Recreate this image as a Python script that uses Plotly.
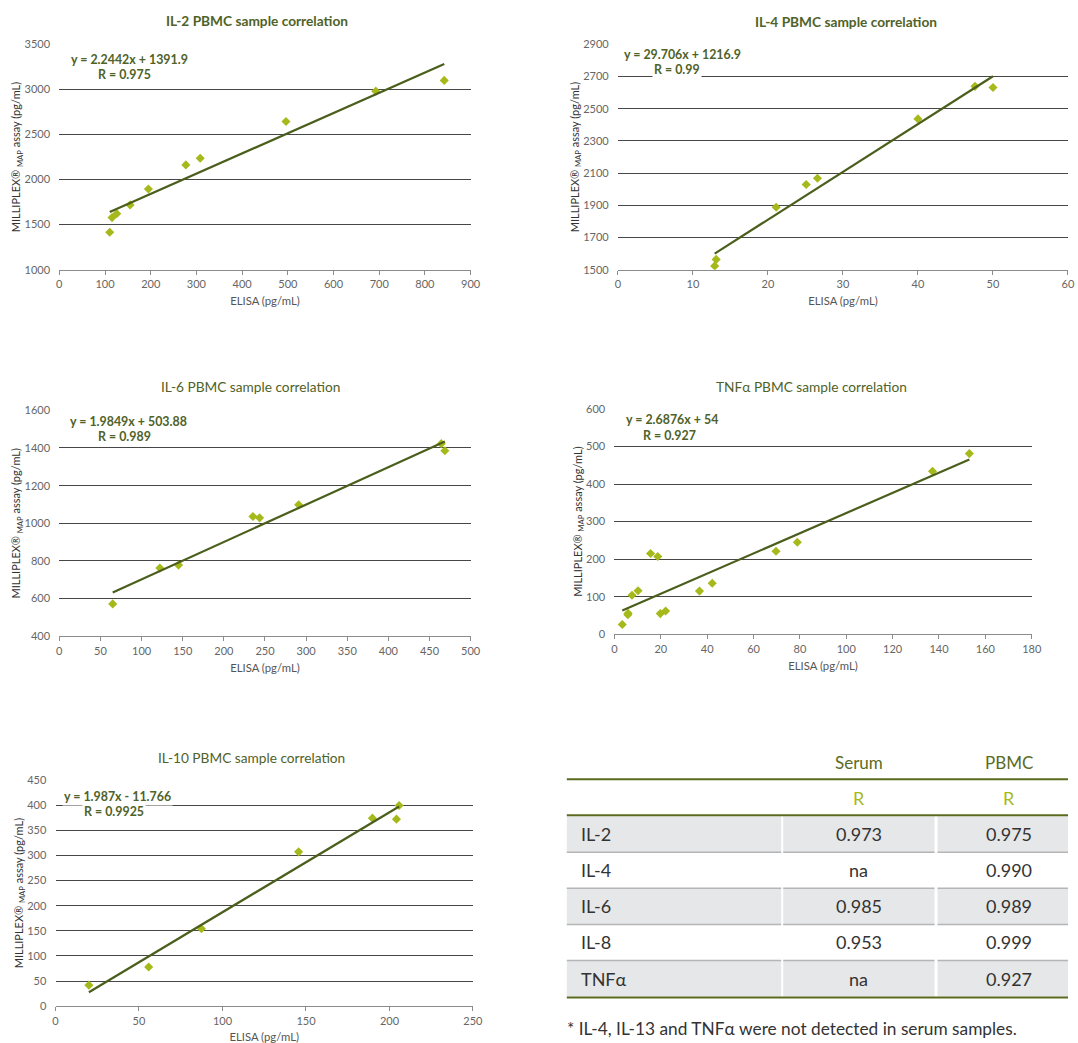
import plotly.graph_objects as go

# ---------------- data ----------------
il2_elisa = [110.3, 115.4, 125.6, 154.9, 195.0, 276.9, 308.3, 496.0, 692.5, 842.3]
il2_milliplex = [1415, 1578, 1622, 1719, 1896, 2163, 2237, 2644, 2981, 3100]
il2_slope, il2_intercept, il2_r = 2.2442, 1391.9, "0.975"

il4_elisa = [12.9, 13.1, 21.1, 25.1, 26.6, 40.0, 47.6, 50.0]
il4_milliplex = [1523, 1564, 1888, 2029, 2068, 2437, 2639, 2632]
il4_slope, il4_intercept, il4_r = 29.706, 1216.9, "0.99"

il6_elisa = [64.9, 122.2, 144.9, 235.4, 243.5, 291.0, 464.3, 468.7]
il6_milliplex = [572, 762, 778, 1036, 1029, 1098, 1423, 1385]
il6_slope, il6_intercept, il6_r = 1.9849, 503.88, "0.989"

tnf_elisa = [3.4, 5.8, 5.9, 7.6, 10.2, 15.6, 18.7, 19.8, 22.1, 36.7, 42.2, 69.7, 78.9, 137.2, 153.1]
tnf_milliplex = [26, 52, 56, 104, 116, 215, 207, 55, 62, 115, 136, 221, 245, 434, 481]
tnf_slope, tnf_intercept, tnf_r = 2.6876, 54, "0.927"

il10_elisa = [20.0, 55.8, 87.4, 145.6, 189.8, 204.2, 205.8]
il10_milliplex = [42, 78, 154, 307, 374, 372, 399]
il10_slope, il10_intercept, il10_r = 1.987, -11.766, "0.9925"

chart_titles = ["IL-2 PBMC sample correlation", "IL-4 PBMC sample correlation",
                "IL-6 PBMC sample correlation", "TNFα PBMC sample correlation",
                "IL-10 PBMC sample correlation"]
equation_texts = ["y = 2.2442x + 1391.9", "y = 29.706x + 1216.9", "y = 1.9849x + 503.88",
                  "y = 2.6876x + 54", "y = 1.987x - 11.766"]

table_header = ["Serum", "PBMC"]
table_rows = ["IL-2", "IL-4", "IL-6", "IL-8", "TNFα"]
serum_r = ["0.973", "na", "0.985", "0.953", "na"]
pbmc_r = ["0.975", "0.990", "0.989", "0.999", "0.927"]
footnote = "* IL-4, IL-13 and TNFα were not detected in serum samples."

# ---------------- layout helpers ----------------
# target positions are given in picture pixels; they are mapped onto the page
W, H = 1078, 1043
SC, BX, BY = 0.986, 3.3, 7.0
def fx(p):
    return min(max(((p - BX) / SC) / W, 0.0), 1.0)
def fy(p):
    return min(max(1 - ((p - BY) / SC) / H, 0.0), 1.0)

FONT = "Lato"
OLIVE = "#4f6228"
LINE = "#4b5e1c"
MARK = "#a6b91a"
GRID = "#474747"
AX = "#8c8c8c"

series = [
    (il2_elisa, il2_milliplex, il2_slope, il2_intercept, il2_r),
    (il4_elisa, il4_milliplex, il4_slope, il4_intercept, il4_r),
    (il6_elisa, il6_milliplex, il6_slope, il6_intercept, il6_r),
    (tnf_elisa, tnf_milliplex, tnf_slope, tnf_intercept, tnf_r),
    (il10_elisa, il10_milliplex, il10_slope, il10_intercept, il10_r),
]

# pixel boxes: left, right, top, bottom ; axis ranges/dticks ; title pos ; eq pos
panels = [
    dict(box=(59.5, 470, 44.3, 269.3), xr=(0, 900), xd=100, yr=(1000, 3500), yd=500,
         tpos=(257, 20), bold=True, eq=(69, 59), rq=(96, 74)),
    dict(box=(617, 1076, 44.3, 269.3), xr=(0, 60), xd=10, yr=(1500, 2900), yd=200,
         tpos=(845, 21), bold=True, eq=(621, 54), rq=(651, 69)),
    dict(box=(59.5, 470, 409.7, 635.3), xr=(0, 500), xd=50, yr=(400, 1600), yd=200,
         tpos=(250, 386), bold=False, eq=(68, 421), rq=(96, 436)),
    dict(box=(613.5, 1030, 408.3, 633.3), xr=(0, 180), xd=20, yr=(0, 600), yd=100,
         tpos=(810, 386), bold=False, eq=(623, 419), rq=(640, 435)),
    dict(box=(55.7, 472.3, 778.7, 1004.7), xr=(0, 250), xd=50, yr=(0, 450), yd=50,
         tpos=(251, 756), bold=False, eq=(62, 795), rq=(82, 810)),
]

fig = go.Figure()
annotations = []
shapes = []

for i, (p, s) in enumerate(zip(panels, series), start=1):
    xs, ys, slope, intercept, r = s
    xa = "x" if i == 1 else f"x{i}"
    ya = "y" if i == 1 else f"y{i}"
    fig.add_trace(go.Scatter(x=xs, y=ys, mode="markers", xaxis=xa, yaxis=ya,
                             marker=dict(symbol="diamond", size=7, color=MARK),
                             showlegend=False, hoverinfo="x+y"))
    x0, x1 = min(xs), max(xs)
    fig.add_trace(go.Scatter(x=[x0, x1], y=[slope * x0 + intercept, slope * x1 + intercept],
                             mode="lines", xaxis=xa, yaxis=ya,
                             line=dict(color=LINE, width=2.2), showlegend=False,
                             hoverinfo="skip"))
    l, rgt, t, b = p["box"]
    key = "" if i == 1 else str(i)
    fig.layout[f"xaxis{key}"] = dict(
        domain=[fx(l), fx(rgt)], anchor=ya, range=list(p["xr"]), dtick=p["xd"],
        tick0=p["xr"][0],
        showgrid=False, zeroline=False, showline=True, linecolor=AX, linewidth=1.2,
        ticks="outside", ticklen=4, tickcolor=AX, tickwidth=1,
        tickfont=dict(family=FONT, size=11, color="#666"),
        title=dict(text="ELISA (pg/mL)", font=dict(family=FONT, size=11.3, color="#555"),
                   standoff=8),
    )
    fig.layout[f"yaxis{key}"] = dict(
        domain=[fy(b), fy(t)], anchor=xa, range=list(p["yr"]), dtick=p["yd"],
        tick0=p["yr"][0],
        showgrid=True, gridcolor=GRID, gridwidth=1, zeroline=False, showline=False,
        ticks="outside", ticklen=6, tickcolor="rgba(0,0,0,0)",
        tickfont=dict(family=FONT, size=11, color="#666"),
        title=dict(text="MILLIPLEX® <sub>MAP</sub> assay (pg/mL)",
                   font=dict(family=FONT, size=11, color="#333"), standoff=0),
    )
    ttxt = chart_titles[i - 1]
    if p["bold"]:
        ttxt = f"<b>{ttxt}</b>"
    annotations.append(dict(text=ttxt, x=fx(p["tpos"][0]), y=fy(p["tpos"][1]),
                            xref="paper", yref="paper", xanchor="center", yanchor="middle",
                            showarrow=False, font=dict(family=FONT, size=13.7, color=OLIVE)))
    annotations.append(dict(text=f"<b>{equation_texts[i - 1]}</b>", x=fx(p["eq"][0]),
                            y=fy(p["eq"][1]), xref="paper", yref="paper",
                            xanchor="left", yanchor="middle", showarrow=False,
                            bgcolor="white", borderpad=1,
                            font=dict(family=FONT, size=12.4, color=OLIVE)))
    annotations.append(dict(text=f"<b>R = {r}</b>", x=fx(p["rq"][0]), y=fy(p["rq"][1]),
                            xref="paper", yref="paper", xanchor="left", yanchor="middle",
                            showarrow=False, bgcolor="white", borderpad=1,
                            font=dict(family=FONT, size=12.4, color=OLIVE)))

# ---------------- table ----------------
cols = [(566, 780), (782, 933), (936, 1078)]
row_top = 815
row_h = 36
GRAYF = "#e6e7e8"
SEP = "#b5b5b5"
TFONT = dict(family=FONT, size=18, color="#333")

for j, h in enumerate(table_header):
    c0, c1 = cols[j + 1]
    annotations.append(dict(text=h, x=fx((c0 + c1) / 2), y=fy(761), xref="paper", yref="paper",
                            xanchor="center", yanchor="middle", showarrow=False,
                            font=dict(family=FONT, size=17, color="#5a6b1f")))
    annotations.append(dict(text="R", x=fx((c0 + c1) / 2), y=fy(797), xref="paper", yref="paper",
                            xanchor="center", yanchor="middle", showarrow=False,
                            font=dict(family=FONT, size=18, color=MARK)))

for k, (name, sv, pv) in enumerate(zip(table_rows, serum_r, pbmc_r)):
    top = row_top + k * row_h
    bot = top + row_h
    for j, (c0, c1) in enumerate(cols):
        if k % 2 == 0:
            shapes.append(dict(type="rect", xref="paper", yref="paper", x0=fx(c0), x1=fx(c1),
                               y0=fy(bot), y1=fy(top), fillcolor=GRAYF, line=dict(width=0),
                               layer="below"))
        if k < len(table_rows) - 1:
            shapes.append(dict(type="line", xref="paper", yref="paper", x0=fx(c0), x1=fx(c1),
                               y0=fy(bot), y1=fy(bot), line=dict(color=SEP, width=1.5)))
    cy = (top + bot) / 2
    annotations.append(dict(text=name, x=fx(578), y=fy(cy), xref="paper", yref="paper",
                            xanchor="left", yanchor="middle", showarrow=False, font=TFONT))
    for j, v in enumerate([sv, pv]):
        c0, c1 = cols[j + 1]
        annotations.append(dict(text=v, x=fx((c0 + c1) / 2), y=fy(cy), xref="paper",
                                yref="paper", xanchor="center", yanchor="middle",
                                showarrow=False, font=TFONT))

for yl in (778, 814, 996):
    shapes.append(dict(type="line", xref="paper", yref="paper", x0=fx(566), x1=fx(1078),
                       y0=fy(yl), y1=fy(yl), line=dict(color="#5a6b1f", width=2)))

annotations.append(dict(text=footnote, x=fx(564), y=fy(1027), xref="paper", yref="paper",
                        xanchor="left", yanchor="middle", showarrow=False,
                        font=dict(family=FONT, size=17.3, color="#333")))

# the figure fills the whole browser window
fig.update_layout(autosize=True, margin=dict(l=0, r=0, t=0, b=0),
                  paper_bgcolor="white", plot_bgcolor="white",
                  annotations=annotations, shapes=shapes, showlegend=False,
                  font=dict(family=FONT))

fill_script = (
    "document.documentElement.style.margin='0';"
    "document.body.style.margin='0';document.body.style.padding='0';"
    "document.documentElement.style.overflow='hidden';document.body.style.overflow='hidden';"
    "var gd=document.getElementById('{plot_id}');"
    "gd.style.position='fixed';gd.style.left='0px';gd.style.top='0px';"
    "gd.style.width='100vw';gd.style.height='100vh';"
    "Plotly.Plots.resize(gd);"
)

fig.write_html("out.html", config={"displayModeBar": False, "responsive": True},
               default_width="100vw", default_height="100vh", post_script=fill_script)
